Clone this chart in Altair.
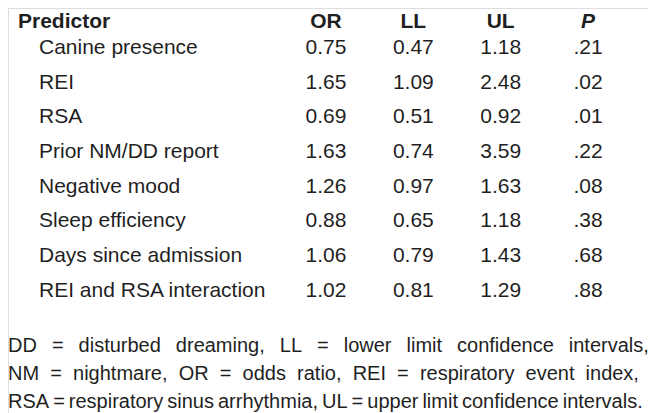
import altair as alt
import pandas as pd

# ---- table content ----
predictors = [
    "Canine presence",
    "REI",
    "RSA",
    "Prior NM/DD report",
    "Negative mood",
    "Sleep efficiency",
    "Days since admission",
    "REI and RSA interaction",
]
odds_ratio = ["0.75", "1.65", "0.69", "1.63", "1.26", "0.88", "1.06", "1.02"]
lower_limit = ["0.47", "1.09", "0.51", "0.74", "0.97", "0.65", "0.79", "0.81"]
upper_limit = ["1.18", "2.48", "0.92", "3.59", "1.63", "1.18", "1.43", "1.29"]
p_values = [".21", ".02", ".01", ".22", ".08", ".38", ".68", ".88"]
row_header = "Predictor"
col_headers = ["OR", "LL", "UL", "P"]
footnote_lines = [
    "DD = disturbed dreaming, LL = lower limit confidence intervals,",
    "NM = nightmare, OR = odds ratio, REI = respiratory event index,",
    "RSA = respiratory sinus arrhythmia, UL = upper limit confidence intervals.",
]
# word gaps used to justify each footnote line
footnote_gaps = ["\u2002\u2005", "\u2007", "\u2009"]

FONT = "Liberation Sans"
COLOR = "#1f1f1f"
SIZE = 21
NOTE_SIZE = 20
HEAD_Y = 19.5

columns = [odds_ratio, lower_limit, upper_limit, p_values]
cells = pd.DataFrame(
    [
        {"row": r, "col": c, "text": columns[c][r]}
        for c in range(len(columns))
        for r in range(len(predictors))
    ]
)
labels = pd.DataFrame({"row": list(range(len(predictors))), "text": predictors})
heads = pd.DataFrame({"col": list(range(len(col_headers))), "text": col_headers})
notes = pd.DataFrame(
    {
        "line": list(range(len(footnote_lines))),
        "text": [
            l.replace(" ", g) for l, g in zip(footnote_lines, footnote_gaps)
        ],
    }
)

xcol = alt.Scale(domain=[0, 3], range=[318, 580])
yrow = alt.Scale(domain=[0, 7], range=[46, 288.5])
yline = alt.Scale(domain=[0, 2], range=[344, 400])

cell_layer = alt.Chart(cells).mark_text(
    font=FONT, fontSize=SIZE, color=COLOR, align="center", baseline="alphabetic"
).encode(
    x=alt.X("col:Q", scale=xcol, axis=None),
    y=alt.Y("row:Q", scale=yrow, axis=None),
    text="text:N",
)

label_layer = alt.Chart(labels).mark_text(
    font=FONT, fontSize=SIZE, color=COLOR, align="left", baseline="alphabetic"
).encode(
    x=alt.value(31),
    y=alt.Y("row:Q", scale=yrow, axis=None),
    text="text:N",
)

head_layer = alt.Chart(heads).transform_filter(alt.datum.text != "P").mark_text(
    font=FONT, fontSize=SIZE, fontWeight="bold", color=COLOR,
    align="center", baseline="alphabetic",
).encode(
    x=alt.X("col:Q", scale=xcol, axis=None),
    y=alt.value(HEAD_Y),
    text="text:N",
)

p_layer = alt.Chart(heads).transform_filter(alt.datum.text == "P").mark_text(
    font=FONT, fontSize=SIZE, fontWeight="bold", fontStyle="italic", color=COLOR,
    align="center", baseline="alphabetic",
).encode(
    x=alt.X("col:Q", scale=xcol, axis=None),
    y=alt.value(HEAD_Y),
    text="text:N",
)

rowhead_layer = alt.Chart(pd.DataFrame({"text": [row_header]})).mark_text(
    font=FONT, fontSize=SIZE, fontWeight="bold", color=COLOR,
    align="left", baseline="alphabetic",
).encode(
    x=alt.value(10),
    y=alt.value(HEAD_Y),
    text="text:N",
)

note_layer = alt.Chart(notes).mark_text(
    font=FONT, fontSize=NOTE_SIZE, color=COLOR, align="left", baseline="alphabetic"
).encode(
    x=alt.value(0),
    y=alt.Y("line:Q", scale=yline, axis=None),
    text="text:N",
)

chart = (
    alt.layer(cell_layer, label_layer, head_layer, p_layer, rowhead_layer, note_layer)
    .resolve_scale(y="independent")
    .properties(width=640, height=405, padding=0, autosize=alt.AutoSizeParams(type="none"))
    .configure_view(stroke=None)
    .configure(background="white")
)

chart.save("out.html", embed_options={"renderer": "svg", "actions": False})
